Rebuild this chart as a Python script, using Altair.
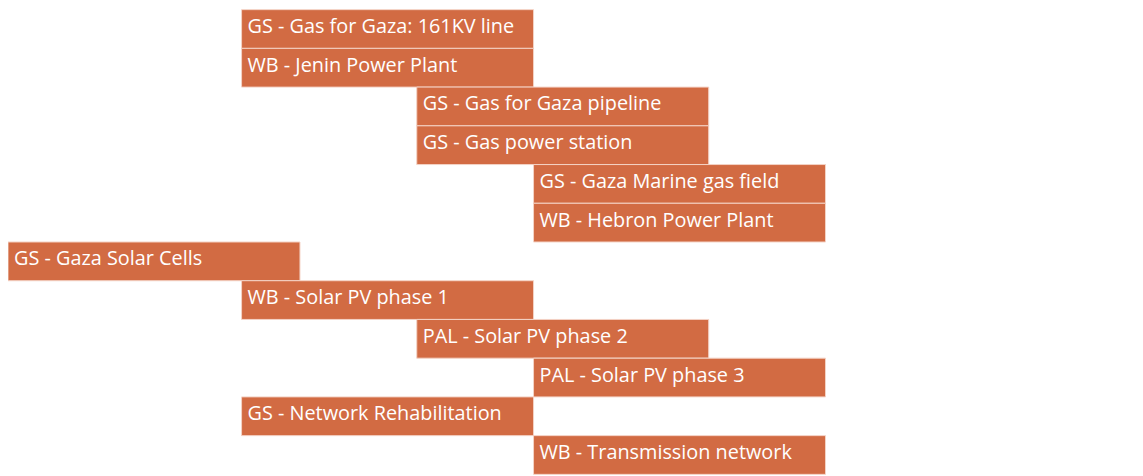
import altair as alt
import pandas as pd

tasks = [
    "GS - Gas for Gaza: 161KV line",
    "WB - Jenin Power Plant",
    "GS - Gas for Gaza pipeline",
    "GS - Gas power station",
    "GS - Gaza Marine gas field",
    "WB - Hebron Power Plant",
    "GS - Gaza Solar Cells",
    "WB - Solar PV phase 1",
    "PAL - Solar PV phase 2",
    "PAL - Solar PV phase 3",
    "GS - Network Rehabilitation",
    "WB - Transmission network",
]
starts = [4, 4, 7, 7, 9, 9, 0, 4, 7, 9, 4, 9]
ends = [9, 9, 12, 12, 14, 14, 5, 9, 12, 14, 9, 14]

df = pd.DataFrame({"task": tasks, "start": starts, "end": ends})

x = alt.X("start:Q", scale=alt.Scale(domain=[0, 19.3], nice=False, zero=False), axis=None)
y = alt.Y("task:N", sort=tasks, scale=alt.Scale(paddingInner=0, paddingOuter=0), axis=None)

bars = alt.Chart(df).mark_bar(color="#D26B43", stroke="#F4D3C6", strokeWidth=1, cornerRadius=0).encode(
    x=x, x2="end:Q", y=y
)
labels = alt.Chart(df).mark_text(
    align="left", baseline="middle", dx=6, dy=-2, color="#ffffff",
    font="Open Sans", fontSize=20
).encode(x=x, y=y, text="task:N")

chart = (bars + labels).properties(
    width=1135, height=468, padding=0,
    autosize=alt.AutoSizeParams(type="none")
).configure_view(stroke=None)

chart.save("out.html", embed_options={"renderer": "svg", "actions": False})
